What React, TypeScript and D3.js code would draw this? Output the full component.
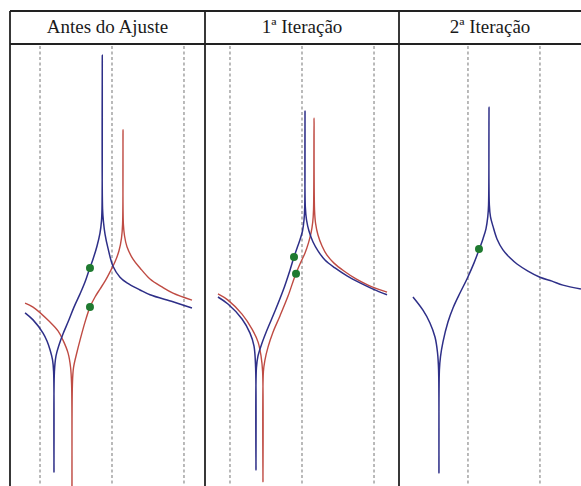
import React from "react";
import * as d3 from "d3";

type Pt = [number, number];

const headers = ["Antes do Ajuste", "1ª Iteração", "2ª Iteração"];

// frequency domains shown by each panel (Hz) and dashed reference lines
const p1Domain: Pt = [158.3, 429.2];
const p2Domain: Pt = [165.3, 434.7];
const p3Domain: Pt = [204.2, 457.0];
const p1Grid = [200, 300, 400];
const p2Grid = [200, 300, 400];
const p3Grid = [300, 400];
const ampDomain: Pt = [-50, 50];

// Panel 1 – before adjustment
const p1Blue: Pt[] = [[179.2,-11.1],[190.3,-12.7],[204.2,-15.7],[209.7,-17.5],[213.9,-19.5],[217.4,-21.8],[218.9,-24.5],[219.4,-47.3],[220.0,-24.5],[222.2,-20.9],[226.4,-18.4],[231.9,-15.9],[238.9,-13.2],[247.2,-9.8],[255.6,-6.8],[262.5,-4.1],[268.1,-1.4],[273.6,1.1],[279.2,4.1],[283.3,7.0],[285.4,9.8],[286.1,12.5],[286.5,47.5],[286.9,12.5],[288.2,9.5],[290.3,6.8],[294.4,3.6],[301.4,-0.5],[311.1,-3.0],[320.8,-4.3],[338.9,-5.9],[352.8,-7.0],[384.7,-8.6],[411.1,-10.0]];
const p1Red: Pt[] = [[179.2,-8.9],[190.3,-9.8],[213.9,-13.2],[225.0,-15.2],[231.9,-17.3],[238.9,-20.2],[242.4,-23.4],[243.9,-27.5],[244.4,-51.8],[245.0,-27.5],[246.5,-23.6],[251.4,-20.0],[255.6,-17.3],[262.5,-13.2],[269.4,-9.8],[276.4,-7.5],[283.3,-5.7],[290.3,-3.9],[297.2,-1.8],[304.2,0.5],[309.7,3.0],[313.2,5.9],[314.7,9.1],[315.3,30.5],[315.8,9.1],[317.4,6.4],[320.8,3.9],[329.2,1.1],[338.9,-0.9],[352.8,-3.4],[369.4,-5.2],[384.7,-6.6],[411.1,-8.2]];
const p1Marks: Pt[] = [[269.4,-0.9],[269.4,-9.8]];

// Panel 2 – 1st iteration
const p2Blue: Pt[] = [[183.3,-7.5],[197.2,-9.1],[216.7,-12.5],[227.8,-15.7],[233.3,-18.6],[235.6,-23.6],[236.1,-46.8],[236.7,-23.6],[238.9,-20.9],[244.4,-18.0],[251.4,-15.0],[262.5,-10.7],[273.6,-6.1],[283.3,-1.4],[288.9,1.6],[293.1,3.6],[297.2,5.5],[300.7,7.5],[302.8,10.0],[303.8,13.0],[304.2,34.8],[304.6,13.0],[306.3,10.0],[309.7,7.5],[315.3,5.0],[322.2,3.0],[331.9,0.9],[345.8,-0.9],[362.5,-2.7],[380.6,-4.3],[398.6,-5.7],[418.1,-7.0]];
const p2Red: Pt[] = [[183.3,-6.8],[197.2,-8.2],[216.7,-11.4],[230.6,-14.8],[238.9,-17.7],[243.1,-20.9],[245.3,-24.5],[245.8,-49.5],[246.4,-24.5],[248.6,-21.8],[252.8,-18.9],[259.7,-15.5],[269.4,-11.8],[280.6,-7.3],[290.3,-2.7],[297.2,0.0],[304.2,2.5],[309.0,4.8],[312.5,7.0],[314.9,9.5],[316.0,12.3],[316.7,33.2],[317.4,12.3],[318.8,9.3],[322.2,6.6],[327.8,4.1],[334.7,2.0],[344.4,0.2],[358.3,-1.6],[375.0,-3.4],[391.7,-4.8],[405.6,-5.7],[418.1,-6.4]];
const p2Marks: Pt[] = [[288.9,1.6],[291.7,-2.2]];

// Panel 3 – 2nd iteration
const p3Blue: Pt[] = [[223.6,-7.5],[237.5,-10.5],[247.2,-13.4],[254.2,-16.6],[257.6,-20.0],[259.2,-24.1],[259.7,-47.5],[260.3,-24.1],[261.8,-21.1],[265.3,-17.7],[272.2,-13.2],[279.2,-10.0],[288.9,-6.6],[298.6,-3.4],[308.3,0.2],[315.3,3.2],[320.8,5.7],[325.0,8.0],[327.5,10.7],[328.6,13.4],[329.2,35.7],[329.7,13.4],[331.3,10.7],[334.7,8.6],[340.3,5.7],[348.6,3.2],[358.3,1.4],[368.1,0.0],[383.3,-1.6],[400.0,-3.0],[416.7,-3.9],[431.9,-4.8],[456.9,-5.7]];
const p3Marks: Pt[] = [[315.3,3.4]];

const W = 581;
const H = 486;
const TOP = 11;
const HEAD = 44;
const edges = [10, 205, 399, 581];

const BLUE = "#2e2f88";
const RED = "#bf4b43";
const GREEN = "#1f7a30";

const panels = [
  { domain: p1Domain, grid: p1Grid, red: p1Red, blue: p1Blue, marks: p1Marks },
  { domain: p2Domain, grid: p2Grid, red: p2Red, blue: p2Blue, marks: p2Marks },
  { domain: p3Domain, grid: p3Grid, red: null as Pt[] | null, blue: p3Blue, marks: p3Marks },
];

export default function App() {
  const y = d3.scaleLinear().domain(ampDomain).range([484, HEAD]);
  return (
    <svg width={W} height={H} style={{ position: "absolute", left: 0, top: 0, background: "#fff" }}>
      <rect x={0} y={0} width={W} height={H} fill="#fff" />
      <defs>
        {panels.map((p, i) => (
          <clipPath id={`clip${i}`} key={i}>
            <rect x={edges[i]} y={HEAD + 1} width={edges[i + 1] - edges[i]} height={H - HEAD} />
          </clipPath>
        ))}
      </defs>
      {panels.map((p, i) => {
        const x = d3.scaleLinear().domain(p.domain).range([edges[i], edges[i + 1]]);
        const line = d3
          .line<Pt>()
          .x((d) => x(d[0]))
          .y((d) => y(d[1]))
          .curve(d3.curveCatmullRom.alpha(0.5));
        return (
          <g key={i} clipPath={`url(#clip${i})`}>
            {p.grid
              .filter((g) => g >= p.domain[0] && g <= p.domain[1])
              .map((g) => (
                <line key={g} x1={x(g)} x2={x(g)} y1={HEAD + 2} y2={H} stroke="#8c8c8c" strokeWidth={1.2} strokeDasharray="3 2.5" />
              ))}
            {p.red && <path d={line(p.red) || ""} fill="none" stroke={RED} strokeWidth={1.4} strokeLinejoin="round" />}
            <path d={line(p.blue) || ""} fill="none" stroke={BLUE} strokeWidth={1.5} strokeLinejoin="round" />
            {p.marks.map((m, k) => (
              <circle key={k} cx={x(m[0])} cy={y(m[1])} r={4} fill={GREEN} />
            ))}
          </g>
        );
      })}
      <g stroke="#222" strokeWidth={1.8}>
        <line x1={edges[0]} x2={W} y1={TOP} y2={TOP} />
        <line x1={edges[0]} x2={W} y1={HEAD} y2={HEAD} />
        {edges.slice(0, 3).map((e) => (
          <line key={e} x1={e} x2={e} y1={TOP} y2={H} />
        ))}
      </g>
      {headers.map((h, i) => (
        <text
          key={h}
          x={(edges[i] + edges[i + 1]) / 2}
          y={33}
          textAnchor="middle"
          fontFamily="'Liberation Serif', 'Times New Roman', serif"
          fontSize={19}
          fill="#1a1a1a"
        >
          {h}
        </text>
      ))}
    </svg>
  );
}
